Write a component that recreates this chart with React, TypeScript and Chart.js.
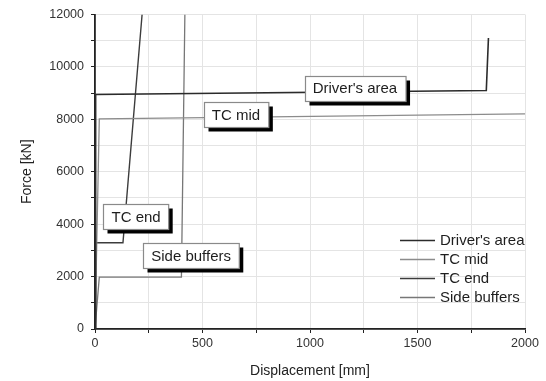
import React, { useEffect, useRef } from "react";
import { Chart, registerables } from "chart.js";

Chart.register(...registerables);

// ---- data ----
const seriesNames = ["Driver's area", "TC mid", "TC end", "Side buffers"];
const driverX = [0, 3, 1820, 1830];
const driverY = [0, 8950, 9100, 11100];
const tcMidX = [0, 20, 2000];
const tcMidY = [0, 8020, 8210];
const tcEndX = [0, 3, 130, 219];
const tcEndY = [0, 3290, 3290, 12000];
const sideX = [0, 20, 402, 418];
const sideY = [0, 1980, 1980, 12000];

// label boxes (data coords) for each series
const labelX = [1209, 656, 191, 447];
const labelY = [9190, 8170, 4290, 2800];

const xTicks = [0, 500, 1000, 1500, 2000];
const yTicks = [0, 2000, 4000, 6000, 8000, 10000, 12000];

const colors = ["#2b2b2b", "#8c8c8c", "#3c3c3c", "#777777"];
const widths = [1.6, 1.3, 1.4, 1.3];

const FONT = "'Liberation Sans', Arial, sans-serif";

const toPts = (xs: number[], ys: number[]) => xs.map((x, i) => ({ x, y: ys[i] }));

const labelPlugin = {
  id: "labelBoxes",
  afterDatasetsDraw(chart: any) {
    const ctx = chart.ctx;
    const xs = chart.scales.x;
    const ys = chart.scales.y;
    ctx.save();
    ctx.font = `15px ${FONT}`;
    ctx.textBaseline = "middle";
    ctx.textAlign = "center";
    seriesNames.forEach((name, i) => {
      const cx = xs.getPixelForValue(labelX[i]);
      const cy = ys.getPixelForValue(labelY[i]);
      const tw = ctx.measureText(name).width;
      const w = tw + 16;
      const h = 25;
      const l = Math.round(cx - w / 2) + 0.5;
      const t = Math.round(cy - h / 2) + 0.5;
      ctx.fillStyle = "#000";
      ctx.fillRect(l + 4, t + 4, w, h);
      ctx.fillStyle = "#fff";
      ctx.fillRect(l, t, w, h);
      ctx.strokeStyle = "#8a8a8a";
      ctx.lineWidth = 1.2;
      ctx.strokeRect(l, t, w, h);
      ctx.fillStyle = "#1e1e1e";
      ctx.fillText(name, cx, cy + 1);
    });
    ctx.restore();
  },
};

const legendPlugin = {
  id: "insideLegend",
  afterDraw(chart: any) {
    const ctx = chart.ctx;
    const area = chart.chartArea;
    ctx.save();
    ctx.font = `15px ${FONT}`;
    ctx.textBaseline = "middle";
    ctx.textAlign = "left";
    const x0 = area.left + 305;
    const y0 = area.top + 226;
    chart.data.datasets.forEach((ds: any, i: number) => {
      const y = y0 + i * 19;
      ctx.strokeStyle = ds.borderColor;
      ctx.lineWidth = ds.borderWidth;
      ctx.beginPath();
      ctx.moveTo(x0, y);
      ctx.lineTo(x0 + 35, y);
      ctx.stroke();
      ctx.fillStyle = "#1e1e1e";
      ctx.fillText(ds.label, x0 + 40, y);
    });
    ctx.restore();
  },
};

export default function App() {
  const ref = useRef<HTMLCanvasElement>(null);
  useEffect(() => {
    document.body.style.margin = "0";
    const xsArr = [driverX, tcMidX, tcEndX, sideX];
    const ysArr = [driverY, tcMidY, tcEndY, sideY];
    const chart = new Chart(ref.current as HTMLCanvasElement, {
      type: "scatter",
      data: {
        datasets: seriesNames.map((name, i) => ({
          label: name,
          data: toPts(xsArr[i], ysArr[i]),
          showLine: true,
          borderColor: colors[i],
          backgroundColor: colors[i],
          borderWidth: widths[i],
          pointRadius: 0,
          tension: 0,
        })),
      },
      options: {
        responsive: false,
        animation: false,
        devicePixelRatio: 1,
        layout: { padding: { top: 13, right: 21, left: 0, bottom: 0 } },
        plugins: { legend: { display: false }, tooltip: { enabled: false } },
        scales: {
          x: {
            type: "linear",
            min: 0,
            max: 2000,
            afterFit: (s: any) => {
              s.height = 52;
            },
            ticks: {
              stepSize: 250,
              color: "#333",
              font: { family: FONT, size: 12.5 },
              padding: 3,
              maxRotation: 0,
              autoSkip: false,
              callback: (v: any) => (xTicks.includes(Number(v)) ? String(v) : ""),
            },
            grid: { color: "#e4e4e4", tickColor: "#222", tickLength: 4, lineWidth: 1 },
            border: { color: "#222", width: 1.8 },
            title: {
              display: true,
              text: "Displacement [mm]",
              color: "#222",
              font: { family: FONT, size: 14 },
              padding: { top: 0, bottom: 1 },
            },
          },
          y: {
            type: "linear",
            min: 0,
            max: 12000,
            afterFit: (s: any) => {
              s.width = 95;
            },
            ticks: {
              stepSize: 1000,
              color: "#333",
              font: { family: FONT, size: 12.5 },
              padding: 7,
              autoSkip: false,
              callback: (v: any) => (yTicks.includes(Number(v)) ? String(v) : ""),
            },
            grid: { color: "#e4e4e4", tickColor: "#222", tickLength: 4, lineWidth: 1 },
            border: { color: "#222", width: 1.8 },
            title: {
              display: true,
              text: "Force [kN]",
              color: "#222",
              font: { family: FONT, size: 14 },
              padding: { top: 19, bottom: 0 },
            },
          },
        },
      },
      plugins: [labelPlugin, legendPlugin],
    } as any);
    return () => chart.destroy();
  }, []);
  return (
    <div style={{ width: 546, height: 381, background: "#fff" }}>
      <canvas ref={ref} width={546} height={381} />
    </div>
  );
}
